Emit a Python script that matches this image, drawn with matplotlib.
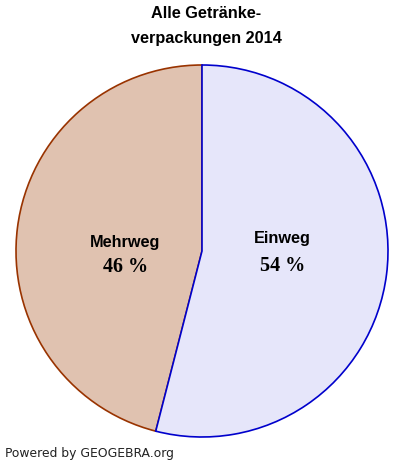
import matplotlib.pyplot as plt

# data
labels = ['Einweg', 'Mehrweg']
shares = [54, 46]
fills = ['#e6e6fa', '#e0c2b0']
edges = ['#0000cc', '#993300']
title_lines = ['Alle Getränke-', 'verpackungen 2014']

W, H = 405, 467
fig = plt.figure(figsize=(W / 100, H / 100), dpi=100)
ax = fig.add_axes([0, 0, 1, 1])

cx, cy, r = 202, H - 251, 186
wedges, _ = ax.pie(shares, center=(cx, cy), radius=r, startangle=90,
                   counterclock=False, colors=fills,
                   wedgeprops=dict(linewidth=1.2))
for w, ec, z in zip(wedges, edges, [3, 2]):
    w.set_edgecolor(ec)
    w.set_zorder(z)

ax.set_xlim(0, W)
ax.set_ylim(0, H)
ax.set_aspect('auto')
ax.axis('off')

# labels inside slices: (x, y of name, y of percent)
lab_pos = [(282, 239, 266), (125, 242, 267)]
for (x, y1, y2), name, v in zip(lab_pos, labels, shares):
    ax.text(x, H - y1, name, ha='center', va='center', fontsize=11.7,
            fontweight='bold', family='Liberation Sans', zorder=5)
    ax.text(x + 1, H - y2, f'{v} %', ha='center', va='center', fontsize=14.5,
            fontweight='bold', family='Liberation Serif', zorder=5)

# title
ax.text(206, H - 14, title_lines[0], ha='center', va='center', fontsize=11.7,
        fontweight='bold', family='Liberation Sans')
ax.text(206, H - 38, title_lines[1], ha='center', va='center', fontsize=11.7,
        fontweight='bold', family='Liberation Sans')

ax.text(5, H - 453, 'Powered by GEOGEBRA.org', ha='left', va='center',
        fontsize=8.9, color='#222222', family='DejaVu Sans')

fig.savefig('out.png', dpi=100)
